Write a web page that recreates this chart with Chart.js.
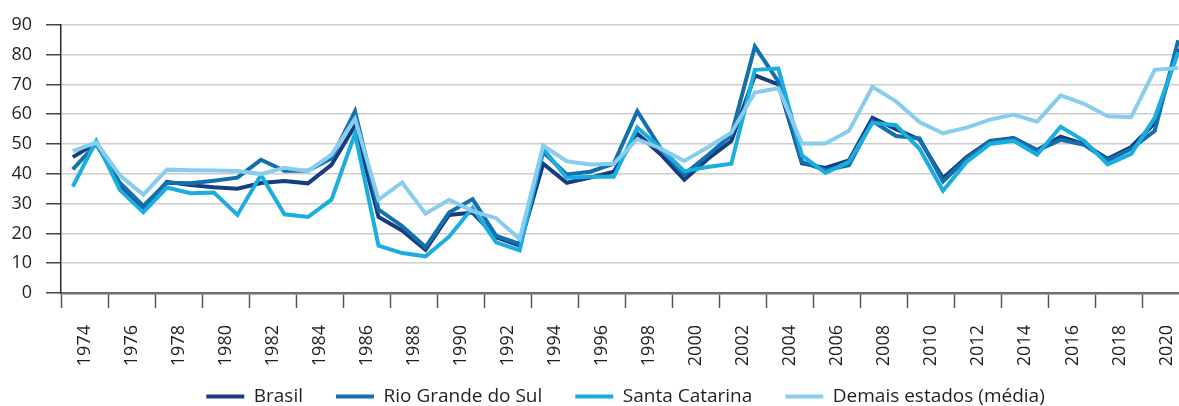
<!DOCTYPE html>
<html>
<head>
<meta charset="utf-8">
<script src="https://cdn.jsdelivr.net/npm/chart.js@4"></script>
<style>
  html, body { margin: 0; padding: 0; background: #fff; overflow: hidden; width: 1179px; height: 406px; }
  #wrap { position: absolute; left: 0; top: 0; width: 1191px; height: 406px; }
</style>
</head>
<body>
<div id="wrap"><canvas id="c" width="1191" height="406"></canvas></div>
<script>
const years = [1974,1975,1976,1977,1978,1979,1980,1981,1982,1983,1984,1985,1986,1987,1988,1989,1990,1991,1992,1993,1994,1995,1996,1997,1998,1999,2000,2001,2002,2003,2004,2005,2006,2007,2008,2009,2010,2011,2012,2013,2014,2015,2016,2017,2018,2019,2020,2021];
const tickYears = [1974,1976,1978,1980,1982,1984,1986,1988,1990,1992,1994,1996,1998,2000,2002,2004,2006,2008,2010,2012,2014,2016,2018,2020];
const yTicks = [0,10,20,30,40,50,60,70,80,90];

const brasil = [45.6,50.3,36.0,28.5,37.3,36.2,35.5,35.0,36.9,37.6,36.8,43.0,56.2,25.5,21.0,14.5,26.2,27.0,18.7,15.9,43.4,37.0,38.7,40.7,53.5,46.5,38.0,45.0,51.0,73.0,70.0,43.5,42.0,44.5,58.8,55.0,51.5,38.5,45.6,51.0,52.0,48.0,52.5,50.0,45.0,49.0,57.0,82.0];
const rioGrandeDoSul = [41.5,50.0,37.0,29.2,37.0,36.8,37.7,38.7,44.7,41.0,41.0,45.2,61.0,28.0,22.5,15.4,27.0,31.5,19.2,16.5,47.3,39.8,40.7,43.4,61.0,48.5,39.8,46.2,53.0,82.7,70.9,44.0,41.2,42.9,57.7,52.7,51.9,37.4,45.1,50.8,51.9,47.8,51.4,49.7,44.5,48.4,54.4,84.8];
const santaCatarina = [35.7,51.0,34.6,27.1,35.4,33.5,33.7,26.2,39.6,26.4,25.5,31.3,53.5,15.9,13.4,12.3,18.9,28.6,17.0,14.3,48.4,38.7,39.0,39.0,55.5,48.5,40.9,42.3,43.4,74.9,75.3,46.2,40.3,44.0,57.1,56.3,48.4,34.3,44.0,50.0,51.1,46.4,55.8,51.1,43.2,46.7,58.8,80.8];
const demaisEstados = [47.6,50.5,39.5,33.0,41.4,41.2,41.1,40.9,39.9,42.0,40.9,46.4,58.5,31.3,37.1,26.6,31.3,27.5,25.1,18.1,49.5,44.2,43.1,43.4,51.6,48.5,44.3,48.9,53.8,67.3,68.7,50.2,50.2,54.4,69.2,64.3,57.4,53.6,55.5,58.2,59.9,57.5,66.3,63.5,59.3,59.0,74.9,75.5];

const seriesNames = ['Brasil', 'Rio Grande do Sul', 'Santa Catarina', 'Demais estados (média)'];
const seriesValues = [brasil, rioGrandeDoSul, santaCatarina, demaisEstados];
const seriesColors = ['#163d7f', '#1270ad', '#19ade0', '#88cdee'];
const drawOrder = [4, 3, 2, 1];

const FONT = "'Open Sans', sans-serif";
const TXT = '#231f20';

const datasets = seriesNames.map((name, i) => ({
  label: name,
  data: years.map((y, j) => ({ x: y, y: seriesValues[i][j] })),
  borderColor: seriesColors[i],
  backgroundColor: seriesColors[i],
  borderWidth: 4,
  pointRadius: 0,
  pointHoverRadius: 0,
  tension: 0,
  borderJoinStyle: 'miter',
  order: drawOrder[i]
}));

const yearPx = (1190 - 61) / 48;

// let the rotated x labels extend below the (shortened) axis box
const labelRoom = {
  id: 'labelRoom',
  afterLayout(chart) { chart.scales.x.bottom = chart.height; }
};

new Chart(document.getElementById('c'), {
  type: 'line',
  data: { datasets },
  plugins: [labelRoom],
  options: {
    responsive: false,
    animation: false,
    events: [],
    layout: { padding: { top: 19, right: 1, left: 0, bottom: 0 } },
    plugins: {
      tooltip: { enabled: false },
      legend: {
        position: 'bottom',
        fullSize: false,
        maxHeight: 52,
        labels: {
          color: TXT,
          font: { family: FONT, size: 19 },
          boxWidth: 38,
          boxHeight: 4,
          padding: 33,
          sort: (a, b) => a.datasetIndex - b.datasetIndex,
          generateLabels: (chart) => Chart.defaults.plugins.legend.labels.generateLabels(chart).map(l => Object.assign(l, { lineWidth: 0 }))
        }
      }
    },
    scales: {
      x: {
        type: 'linear',
        min: years[0] - 0.5,
        max: years[years.length - 1] + 0.5,
        afterBuildTicks: (scale) => { scale.ticks = tickYears.map(t => ({ value: t - 0.5 })); },
        afterFit: (scale) => { scale.height = 61; },
        ticks: {
          autoSkip: false,
          maxRotation: 90,
          minRotation: 90,
          padding: 17,
          labelOffset: yearPx,
          color: TXT,
          font: { family: FONT, size: 18 },
          callback: (v, i) => String(tickYears[i])
        },
        grid: {
          display: true,
          drawOnChartArea: false,
          drawTicks: true,
          tickLength: 15,
          tickColor: '#555',
          tickWidth: 1.5
        },
        border: { display: true, color: '#6e6e6e', width: 2.5 }
      },
      y: {
        min: 0,
        max: 90,
        afterBuildTicks: (scale) => { scale.ticks = yTicks.map(v => ({ value: v })); },
        afterFit: (scale) => { scale.width = 61; },
        ticks: {
          padding: 14,
          color: TXT,
          font: { family: FONT, size: 18 }
        },
        grid: {
          color: (ctx) => ctx.tick && ctx.tick.value === 0 ? 'rgba(0,0,0,0)' : '#cdcdcd',
          lineWidth: 1.5,
          tickLength: 15,
          tickColor: '#444',
          tickWidth: 1.5
        },
        border: { display: true, color: '#2a2a2a', width: 1.5 }
      }
    }
  }
});
</script>
</body>
</html>
